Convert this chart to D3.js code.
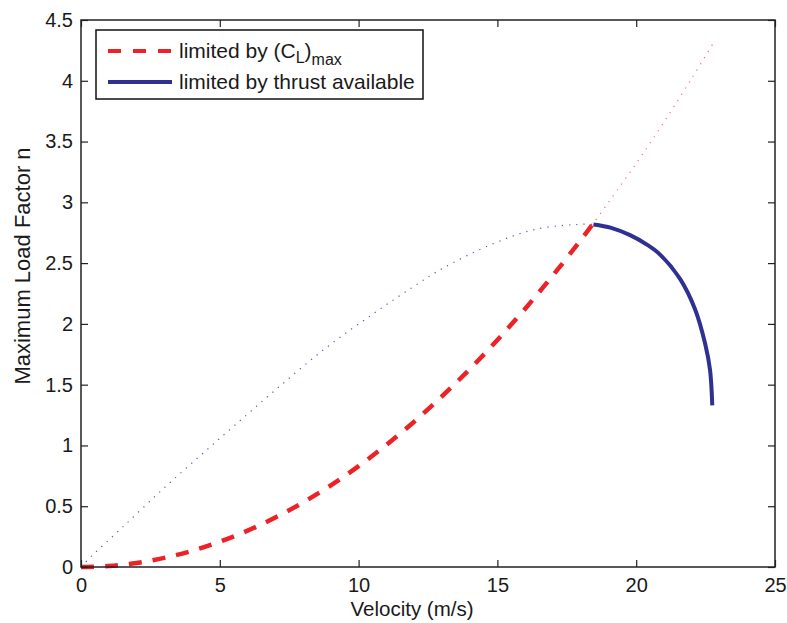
<!DOCTYPE html>
<html>
<head>
<meta charset="utf-8">
<script src="https://cdn.jsdelivr.net/npm/d3@7"></script>
<style>
  html, body { margin: 0; padding: 0; background: #fff; }
  svg { display: block; }
  text { font-family: "Liberation Sans", Arial, Helvetica, sans-serif; fill: #1a1a1a; }
</style>
</head>
<body>
<svg id="chart" width="787" height="623"></svg>
<script>
// ---- Data ----
const xTicks = [0, 5, 10, 15, 20, 25];
const yTicks = [0, 0.5, 1, 1.5, 2, 2.5, 3, 3.5, 4, 4.5];
const xTickLabels = ["0", "5", "10", "15", "20", "25"];
const yTickLabels = ["0", "0.5", "1", "1.5", "2", "2.5", "3", "3.5", "4", "4.5"];

// limited by (C_L)max : dashed red
const clV = [0, 1, 2, 3, 4, 5, 6, 7, 8, 9, 10, 11, 12, 13, 14, 15, 16, 17, 18, 18.4];
const clN = [0, 0.008, 0.033, 0.075, 0.133, 0.208, 0.299, 0.407, 0.531, 0.672, 0.83, 1.004, 1.195, 1.403, 1.627, 1.868, 2.125, 2.399, 2.689, 2.81];

// continuation of (C_L)max curve beyond : dotted red
const clExtV = [18.4, 19, 20, 21, 22, 22.75];
const clExtN = [2.81, 3.0, 3.32, 3.66, 4.02, 4.30];

// thrust-limited curve below stall-limited range : dotted blue
const thExtV = [0, 0.36, 1.49, 2.94, 4.25, 5.51, 7, 8.81, 10.57, 12, 13.05, 14.85, 16.41, 18.09, 18.46];
const thExtN = [0, 0.085, 0.326, 0.639, 0.907, 1.16, 1.456, 1.80, 2.09, 2.31, 2.46, 2.66, 2.78, 2.82, 2.818];

// limited by thrust available : solid blue
const thV = [18.46, 19.1, 19.78, 20.4, 20.86, 21.58, 22.12, 22.48, 22.66, 22.74];
const thN = [2.818, 2.79, 2.73, 2.65, 2.57, 2.37, 2.12, 1.84, 1.62, 1.33];

const legendLabels = ["limited by (C", "limited by thrust available"];

// ---- Layout ----
const svg = d3.select("#chart");
const pL = 81, pR = 775, pT = 20, pB = 567;
const x = d3.scaleLinear().domain([0, 25]).range([pL, pR]);
const y = d3.scaleLinear().domain([0, 4.5]).range([pB, pT]);

const RED = "#ec2227";
const BLUE = "#2e3192";
const AX = "#222";

const line = d3.line().x(d => x(d[0])).y(d => y(d[1])).curve(d3.curveCatmullRom.alpha(0.5));
const zip = (a, b) => a.map((v, i) => [v, b[i]]);

const g = svg.append("g");

// dotted curves
g.append("path").attr("d", line(zip(thExtV, thExtN)))
  .attr("fill", "none").attr("stroke", BLUE).attr("stroke-opacity", 0.8)
  .attr("stroke-width", 1.2).attr("stroke-dasharray", "1.2,6");
g.append("path").attr("d", line(zip(clExtV, clExtN)))
  .attr("fill", "none").attr("stroke", RED).attr("stroke-opacity", 0.65)
  .attr("stroke-width", 1.2).attr("stroke-dasharray", "1.2,6");

// main curves
g.append("path").attr("d", line(zip(clV, clN)))
  .attr("fill", "none").attr("stroke", RED)
  .attr("stroke-width", 4.5).attr("stroke-dasharray", "13,11");
g.append("path").attr("d", line(zip(thV, thN)))
  .attr("fill", "none").attr("stroke", BLUE)
  .attr("stroke-width", 4);

// axes box with inward ticks on all four sides
const fs = 20;
const axB = d3.axisBottom(x).tickValues(xTicks).tickSizeInner(-7).tickSizeOuter(0)
  .tickFormat((d, i) => xTickLabels[i]).tickPadding(11);
const axT = d3.axisTop(x).tickValues(xTicks).tickSizeInner(-7).tickSizeOuter(0).tickFormat("");
const axL = d3.axisLeft(y).tickValues(yTicks).tickSizeInner(-7).tickSizeOuter(0)
  .tickFormat((d, i) => yTickLabels[i]).tickPadding(8);
const axR = d3.axisRight(y).tickValues(yTicks).tickSizeInner(-7).tickSizeOuter(0).tickFormat("");

function style(sel) {
  sel.select(".domain").remove();
  sel.selectAll("line").attr("stroke", AX).attr("stroke-width", 1.2);
  sel.selectAll("text").attr("font-size", fs).attr("fill", "#1a1a1a")
     .style("font-family", "'Liberation Sans', Arial, sans-serif");
}
svg.append("g").attr("transform", `translate(0,${pB})`).call(axB).call(style);
svg.append("g").attr("transform", `translate(0,${pT})`).call(axT).call(style);
svg.append("g").attr("transform", `translate(${pL},0)`).call(axL).call(style);
svg.append("g").attr("transform", `translate(${pR},0)`).call(axR).call(style);

svg.append("rect").attr("x", pL).attr("y", pT)
  .attr("width", pR - pL).attr("height", pB - pT)
  .attr("fill", "none").attr("stroke", AX).attr("stroke-width", 1.5);

// axis labels
svg.append("text").attr("x", 412).attr("y", 616)
  .attr("text-anchor", "middle").attr("font-size", 20.5).text("Velocity (m/s)");
svg.append("text").attr("transform", `translate(30,266) rotate(-90)`)
  .attr("text-anchor", "middle").attr("font-size", 22).text("Maximum Load Factor n");

// legend
const lg = svg.append("g");
lg.append("rect").attr("x", 96).attr("y", 30).attr("width", 327).attr("height", 69)
  .attr("fill", "#fff").attr("stroke", "#111").attr("stroke-width", 1.5);
lg.append("line").attr("x1", 108).attr("x2", 172).attr("y1", 51).attr("y2", 51)
  .attr("stroke", RED).attr("stroke-width", 4).attr("stroke-dasharray", "13,12");
lg.append("line").attr("x1", 108).attr("x2", 172).attr("y1", 82).attr("y2", 82)
  .attr("stroke", BLUE).attr("stroke-width", 4);
const lfs2 = 21;
const t1 = lg.append("text").attr("x", 179).attr("y", 58).attr("font-size", lfs2);
t1.append("tspan").text(legendLabels[0]);
t1.append("tspan").attr("dy", 5).attr("font-size", 16).text("L");
t1.append("tspan").attr("dy", -5).text(")");
t1.append("tspan").attr("dy", 7).attr("font-size", 16).text("max");
lg.append("text").attr("x", 179).attr("y", 89).attr("font-size", lfs2).text(legendLabels[1]);
</script>
</body>
</html>
